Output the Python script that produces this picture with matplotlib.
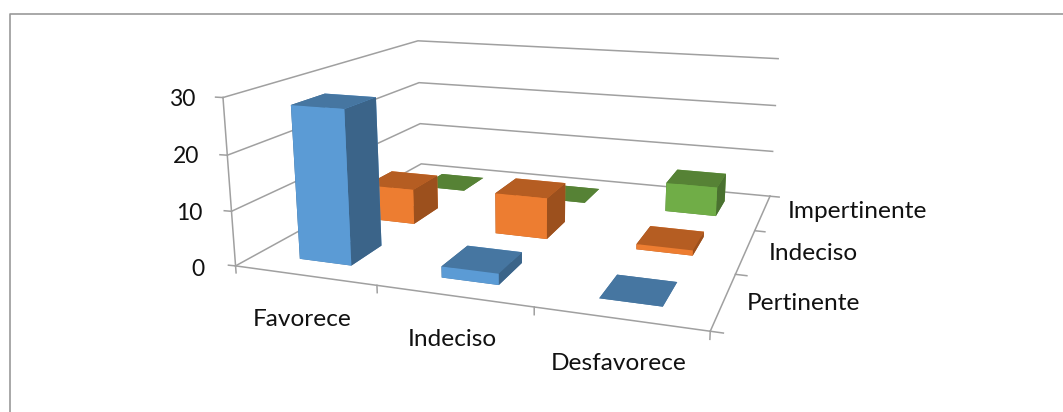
#!/usr/bin/env python3
"""Excel style 3D column chart: Favorece/Indeciso/Desfavorece by Pertinente/Indeciso/Impertinente."""
import matplotlib
matplotlib.use("Agg")
import matplotlib.pyplot as plt
from matplotlib.lines import Line2D

plt.rcParams["font.family"] = ["Lato", "DejaVu Sans"]

categories = ["Favorece", "Indeciso", "Desfavorece"]
series_names = ["Pertinente", "Indeciso", "Impertinente"]
pertinente = [28, 2, 0]
indeciso = [7, 8, 1]
impertinente = [0, 0, 6]
z_ticks = [0, 10, 20, 30]

front_col = ["#5b9bd5", "#ed7d31", "#70ad47"]
top_col = ["#4676a1", "#b55d22", "#568235"]
side_col = ["#3b6489", "#9c501d", "#4a7130"]
line_col = "#a0a0a0"

W, H = 1063, 412
fig = plt.figure(figsize=(W / 100, H / 100), dpi=100)


def px(x, y):
    return x / W, 1 - y / H


# chart frame, the picture cuts it at the bottom and right
fig.add_artist(Line2D(*zip(px(10, 420), px(10, 13.5), px(1070, 13.5)),
                      color="#999999", linewidth=1.2))

# square axes in pixels, centred on (523, 161)
ax = fig.add_axes([(523 - 293) / W, 1 - (161 + 293) / H, 586 / W, 586 / H],
                  projection="3d", computed_zorder=False)
ax.set_proj_type("persp", focal_length=0.32)
ax.view_init(elev=14, azim=-70.5, roll=0)
ax.set_box_aspect((1.04, 0.94, 0.375))
ax.set_xlim(0, 3)
ax.set_ylim(0, 3)
ax.set_zlim(0, 30)
ax.set_axis_off()
ax.patch.set_alpha(0)


def seg(xs, ys, zs):
    ax.plot(xs, ys, zs, color=line_col, linewidth=1.1, zorder=1, clip_on=False)


# walls and floor
for z in z_ticks:
    seg([0, 0, 3], [0, 3, 3], [z, z, z])
    seg([0, -0.05], [0, -0.005], [z, z])
seg([0, 0], [0, 0], [0, 30])
seg([0, 3, 3], [0, 0, 3], [0, 0, 0])
for i in range(4):
    seg([i, i], [0, 0], [0, -1.3])
for j in range(4):
    seg([3, 3.07], [j, j], [0, 0])

all_series = [pertinente, indeciso, impertinente]
wx, wy = 0.375, 0.45
for s in range(2, -1, -1):
    colors = [top_col[s], top_col[s], front_col[s], front_col[s], side_col[s], side_col[s]]
    for c in range(3):
        ax.bar3d(c + (1 - wx) / 2, s + (1 - wy) / 2, 0, wx, wy, all_series[s][c],
                 color=colors, shade=False, zorder=10 + (3 - s) * 5 + c, edgecolor="none")

label_size = 17.6
for (x, y), name in zip([(302, 319), (452, 339), (619, 363)], categories):
    fig.text(*px(x, y), name, fontsize=label_size, ha="center", va="center", color="#111111")
for (x, y), name in zip([(747, 303), (769, 253), (788, 212)], series_names):
    fig.text(*px(x, y), name, fontsize=label_size, ha="left", va="center", color="#111111")
for (x, y), v in zip([(205, 270), (202, 214), (199, 157), (195, 99)], z_ticks):
    fig.text(*px(x, y), str(v), fontsize=16.5, ha="right", va="center", color="#111111")

fig.savefig("out.png", dpi=100)
